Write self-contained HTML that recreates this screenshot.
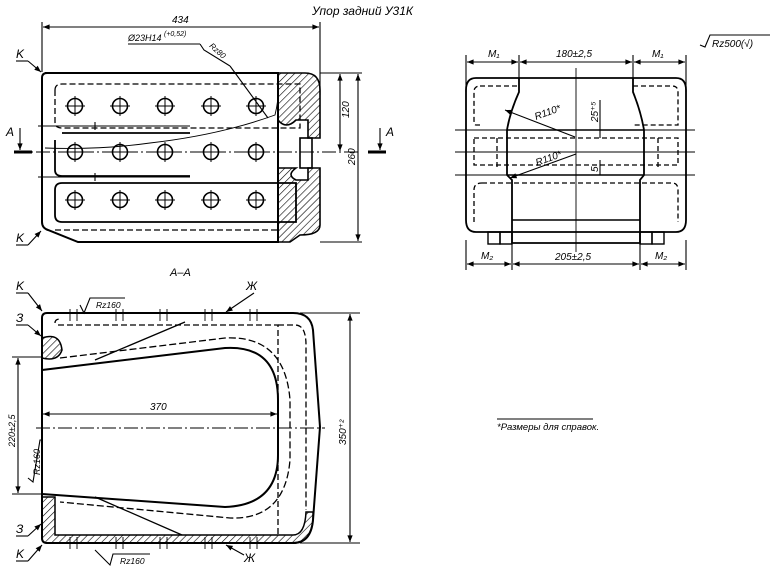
<!DOCTYPE html>
<html><head><meta charset="utf-8"><style>
html,body{margin:0;padding:0;background:#fff;width:773px;height:570px;overflow:hidden}
svg{display:block}
text{font-family:"Liberation Sans","DejaVu Sans",sans-serif;font-style:italic;fill:#000}
</style></head><body>
<svg width="773" height="570" viewBox="0 0 773 570" xmlns="http://www.w3.org/2000/svg">
<defs>
<pattern id="h" width="5" height="5" patternUnits="userSpaceOnUse" patternTransform="rotate(45)">
<line x1="0" y1="0" x2="0" y2="5" stroke="#000" stroke-width="1.2"/></pattern>
<marker id="a" viewBox="0 0 10 10" refX="10" refY="5" markerWidth="8" markerHeight="6" orient="auto-start-reverse"><path d="M0,1 L10,5 L0,9 z" fill="#000"/></marker>
</defs>
<g fill="none" stroke="#000" stroke-width="1.1">
<text x="312" y="15" font-size="12" stroke="none">Упор задний У31К</text>

<!-- TOP VIEW -->
<line x1="42" y1="22" x2="42" y2="72"/><line x1="320" y1="22" x2="320" y2="95"/>
<line x1="43" y1="27" x2="319" y2="27" marker-start="url(#a)" marker-end="url(#a)"/>
<text x="172" y="23" font-size="10" stroke="none">434</text>
<line x1="128" y1="44" x2="200" y2="44"/>
<text x="128" y="41" font-size="9" stroke="none">Ø23H14</text><text x="164" y="36" font-size="7" stroke="none">(+0,52)</text>
<polyline points="200,44 204,50 230,66"/><line x1="230" y1="66" x2="268" y2="118"/>
<text x="206" y="50" font-size="8" stroke="none" transform="rotate(42 212 52)">Rz80</text>
<path d="M45,73 H278 V242 H78 L48,230 Q42,228 42,222 V78 Q42,73 47,73" stroke-width="2"/>
<path d="M278,73 H305 Q320,73 320,90 V138 H308 V120 H296 Q286,130 278,120 Z M278,168 H296 Q286,175 296,180 H308 V168 H320 V225 Q320,235 300,235 L290,242 H278 Z" fill="url(#h)" stroke-width="1.6"/>
<rect x="300" y="138" width="12" height="30" stroke-width="1.6"/>
<path d="M55,90 Q55,84 62,84 H300 V128 H62 Q55,128 55,122 Z" stroke-dasharray="6,3" stroke-width="1.3"/>
<path d="M62,133 H190 M55,140 V170 Q55,176 62,176 H190 M62,183 H296 V222 H62 Q55,222 55,215 V190 Q55,183 62,183" stroke-width="1.8"/>
<path d="M55,230 H278" stroke-dasharray="6,3" stroke-width="1.3"/>
<path d="M45,148 Q100,150 150,143 Q220,135 275,115 Q280,95 278,73" stroke-width="0.9"/>
<line x1="38" y1="126" x2="190" y2="126"/><line x1="38" y1="177" x2="190" y2="177"/>
<line x1="95" y1="122" x2="95" y2="130"/><line x1="95" y1="173" x2="95" y2="181"/>
<line x1="14" y1="152" x2="360" y2="152" stroke-dasharray="14,3,2,3"/>
<line x1="320" y1="73" x2="362" y2="73"/><line x1="320" y1="242" x2="362" y2="242"/>
<line x1="340" y1="74" x2="340" y2="151" marker-start="url(#a)" marker-end="url(#a)"/>
<line x1="358" y1="74" x2="358" y2="241" marker-start="url(#a)" marker-end="url(#a)"/>
<text x="0" y="0" font-size="10" stroke="none" transform="translate(349,118) rotate(-90)">120</text>
<text x="0" y="0" font-size="10" stroke="none" transform="translate(355,165) rotate(-90)">260</text>
<text x="6" y="136" font-size="12" stroke="none">A</text>
<line x1="20" y1="128" x2="20" y2="150" marker-end="url(#a)"/><line x1="14" y1="152" x2="32" y2="152" stroke-width="3"/>
<text x="386" y="136" font-size="12" stroke="none">A</text>
<line x1="380" y1="128" x2="380" y2="150" marker-end="url(#a)"/><line x1="368" y1="152" x2="386" y2="152" stroke-width="3"/>
<text x="16" y="58" font-size="12" stroke="none">K</text><line x1="16" y1="61" x2="28" y2="61"/><line x1="28" y1="61" x2="41" y2="72" marker-end="url(#a)"/>
<text x="16" y="242" font-size="12" stroke="none">K</text><line x1="16" y1="245" x2="28" y2="245"/><line x1="28" y1="245" x2="41" y2="231" marker-end="url(#a)"/>
<g stroke-width="1.6">
<circle cx="75" cy="106" r="7.5"/><circle cx="120" cy="106" r="7.5"/><circle cx="165" cy="106" r="7.5"/><circle cx="211" cy="106" r="7.5"/><circle cx="256" cy="106" r="7.5"/>
<circle cx="75" cy="152" r="7.5"/><circle cx="120" cy="152" r="7.5"/><circle cx="165" cy="152" r="7.5"/><circle cx="211" cy="152" r="7.5"/><circle cx="256" cy="152" r="7.5"/>
<circle cx="75" cy="200" r="7.5"/><circle cx="120" cy="200" r="7.5"/><circle cx="165" cy="200" r="7.5"/><circle cx="211" cy="200" r="7.5"/><circle cx="256" cy="200" r="7.5"/>
</g>
<g stroke-width="1">
<path d="M65,106h20M75,96v20M110,106h20M120,96v20M155,106h20M165,96v20M201,106h20M211,96v20M246,106h20M256,96v20"/>
<path d="M65,152h20M75,142v20M110,152h20M120,142v20M155,152h20M165,142v20M201,152h20M211,142v20M246,152h20M256,142v20"/>
<path d="M65,200h20M75,190v20M110,200h20M120,190v20M155,200h20M165,190v20M201,200h20M211,190v20M246,200h20M256,190v20"/>
</g>

<!-- SECTION A-A -->
<text x="170" y="276" font-size="11" stroke="none">A–A</text>
<path d="M47,313 H293 Q311,313 313,330 L320,427 L313,520 Q311,543 293,543 H47 Q42,543 42,538 V318 Q42,313 47,313" stroke-width="2"/>
<path d="M42,497 H55 V535 H293 Q305,535 306,512 H313 L313,520 Q311,543 293,543 H47 Q42,543 42,538 Z" fill="url(#h)" stroke-width="1.5"/>
<path d="M42,338 Q60,332 62,350 Q58,362 42,358 Z" fill="url(#h)" stroke-width="1.5"/>
<path d="M42,370 L225,348 Q278,345 278,400 V455 Q278,505 225,507 L42,494" stroke-width="2"/>
<path d="M58,325 H278 V535 M55,323 Q55,319 60,319" stroke-dasharray="6,3" stroke-width="1.3"/>
<path d="M278,325 H295 Q306,325 306,345 L306,510" stroke-dasharray="6,3" stroke-width="1.3"/>
<path d="M60,358 L225,338 Q285,335 290,400 V460 Q285,520 230,518 L60,502" stroke-dasharray="7,3" stroke-width="1.3"/>
<path d="M95,360 L185,322 M95,497 L182,535" stroke-width="1.3"/>
<line x1="12" y1="357" x2="42" y2="357"/><line x1="12" y1="494" x2="42" y2="494"/>
<line x1="18" y1="358" x2="18" y2="493" marker-start="url(#a)" marker-end="url(#a)"/>
<text x="0" y="0" font-size="9" stroke="none" transform="translate(15,447) rotate(-90)">220±2,5</text>
<text x="0" y="0" font-size="9" stroke="none" transform="translate(40,475) rotate(-90)">Rz160</text>
<path d="M28,478 L33,482 L40,440 H41"/>
<line x1="43" y1="414" x2="277" y2="414" marker-start="url(#a)" marker-end="url(#a)"/>
<text x="150" y="410" font-size="10" stroke="none">370</text>
<line x1="36" y1="428" x2="325" y2="428" stroke-dasharray="14,3,2,3"/>
<line x1="300" y1="313" x2="360" y2="313"/><line x1="300" y1="543" x2="360" y2="543"/>
<line x1="350" y1="314" x2="350" y2="542" marker-start="url(#a)" marker-end="url(#a)"/>
<text x="0" y="0" font-size="10" stroke="none" transform="translate(346,445) rotate(-90)">350⁺²</text>
<g stroke-width="0.9">
<path d="M70,309v12M77,309v12M116,309v12M123,309v12M160,309v12M167,309v12M205,309v12M212,309v12M250,309v12M257,309v12"/>
<path d="M70,537v12M77,537v12M116,537v12M123,537v12M160,537v12M167,537v12M205,537v12M212,537v12M250,537v12M257,537v12"/>
</g>
<polyline points="80,305 84,313 90,298 125,298"/><text x="96" y="308" font-size="8.5" stroke="none">Rz160</text>
<polyline points="95,550 110,565 113,554 150,554"/><text x="120" y="564" font-size="8.5" stroke="none">Rz160</text>
<text x="16" y="290" font-size="12" stroke="none">K</text><line x1="16" y1="293" x2="28" y2="293"/><line x1="28" y1="293" x2="42" y2="311" marker-end="url(#a)"/>
<text x="16" y="322" font-size="12" stroke="none">З</text><line x1="16" y1="325" x2="28" y2="325"/><line x1="28" y1="325" x2="41" y2="336" marker-end="url(#a)"/>
<text x="16" y="533" font-size="12" stroke="none">З</text><line x1="16" y1="536" x2="28" y2="536"/><line x1="28" y1="536" x2="41" y2="524" marker-end="url(#a)"/>
<text x="16" y="558" font-size="12" stroke="none">K</text><line x1="16" y1="561" x2="28" y2="561"/><line x1="28" y1="561" x2="42" y2="545" marker-end="url(#a)"/>
<text x="246" y="290" font-size="12" stroke="none">Ж</text><line x1="254" y1="293" x2="226" y2="312" marker-end="url(#a)"/>
<text x="244" y="562" font-size="12" stroke="none">Ж</text><line x1="244" y1="555" x2="226" y2="545" marker-end="url(#a)"/>

<!-- RIGHT VIEW -->
<polyline points="700,45 705,47 710,35 770,35"/><text x="712" y="47" font-size="10" stroke="none">Rz500(√)</text>
<line x1="466" y1="55" x2="466" y2="92"/><line x1="519" y1="55" x2="519" y2="80"/><line x1="633" y1="55" x2="633" y2="80"/><line x1="686" y1="55" x2="686" y2="92"/>
<line x1="467" y1="62" x2="518" y2="62" marker-start="url(#a)" marker-end="url(#a)"/>
<line x1="520" y1="62" x2="632" y2="62" marker-start="url(#a)" marker-end="url(#a)"/>
<line x1="634" y1="62" x2="685" y2="62" marker-start="url(#a)" marker-end="url(#a)"/>
<text x="488" y="57" font-size="10" stroke="none">M₁</text><text x="556" y="57" font-size="10" stroke="none">180±2,5</text><text x="652" y="57" font-size="10" stroke="none">M₁</text>
<path d="M476,78 H676 Q686,78 686,90 V220 Q686,232 676,232 H476 Q466,232 466,220 V90 Q466,78 476,78" stroke-width="1.8"/>
<path d="M519,78 V92 Q510,112 507,130 V175 L512,180 V243 H640 V180 L644,175 V130 Q641,112 633,92 V78" stroke-width="1.8"/>
<path d="M507,130 H644 M507,175 H644 M512,220 H640" stroke-width="1.6"/>
<path d="M480,86 H519 M633,86 H672 Q678,86 678,92 V125 H633 M480,125 H476 Q474,125 474,120 V92 Q474,86 480,86 M474,138 H678 V165 H474 Z M482,183 H672 Q678,183 678,190 V222 M474,222 V190 Q474,183 482,183 M497,138 V168 M658,138 V168" stroke-dasharray="5,3" stroke-width="1.3"/>
<line x1="455" y1="130" x2="695" y2="130"/><line x1="455" y1="152" x2="695" y2="152"/><line x1="455" y1="175" x2="695" y2="175"/>
<line x1="576" y1="68" x2="576" y2="252" stroke-width="0.9"/>
<rect x="488" y="232" width="12" height="12" stroke-width="1.4"/><rect x="500" y="232" width="12" height="12" stroke-width="1.4"/><rect x="640" y="232" width="12" height="12" stroke-width="1.4"/><rect x="652" y="232" width="12" height="12" stroke-width="1.4"/>
<line x1="575" y1="137" x2="505" y2="110" marker-end="url(#a)"/><text x="536" y="120" font-size="10" stroke="none" transform="rotate(-20 536 120)">R110*</text>
<line x1="576" y1="154" x2="510" y2="178" marker-end="url(#a)"/><text x="537" y="166" font-size="10" stroke="none" transform="rotate(-20 537 166)">R110*</text>
<line x1="600" y1="100" x2="600" y2="138"/><line x1="600" y1="160" x2="600" y2="175"/>
<text x="0" y="0" font-size="10" stroke="none" transform="translate(598,122) rotate(-90)">25⁺⁵</text>
<text x="0" y="0" font-size="10" stroke="none" transform="translate(598,172) rotate(-90)">5</text>
<line x1="466" y1="240" x2="466" y2="270"/><line x1="512" y1="244" x2="512" y2="270"/><line x1="640" y1="244" x2="640" y2="270"/><line x1="686" y1="240" x2="686" y2="270"/>
<line x1="467" y1="264" x2="511" y2="264" marker-start="url(#a)" marker-end="url(#a)"/>
<line x1="513" y1="264" x2="639" y2="264" marker-start="url(#a)" marker-end="url(#a)"/>
<line x1="641" y1="264" x2="685" y2="264" marker-start="url(#a)" marker-end="url(#a)"/>
<text x="481" y="259" font-size="10" stroke="none">M₂</text><text x="555" y="260" font-size="10" stroke="none">205±2,5</text><text x="655" y="259" font-size="10" stroke="none">M₂</text>

<line x1="497" y1="419" x2="593" y2="419" stroke-width="0.9"/>
<text x="497" y="430" font-size="9.5" stroke="none">*Размеры для справок.</text>
</g>
</svg>
</body></html>
